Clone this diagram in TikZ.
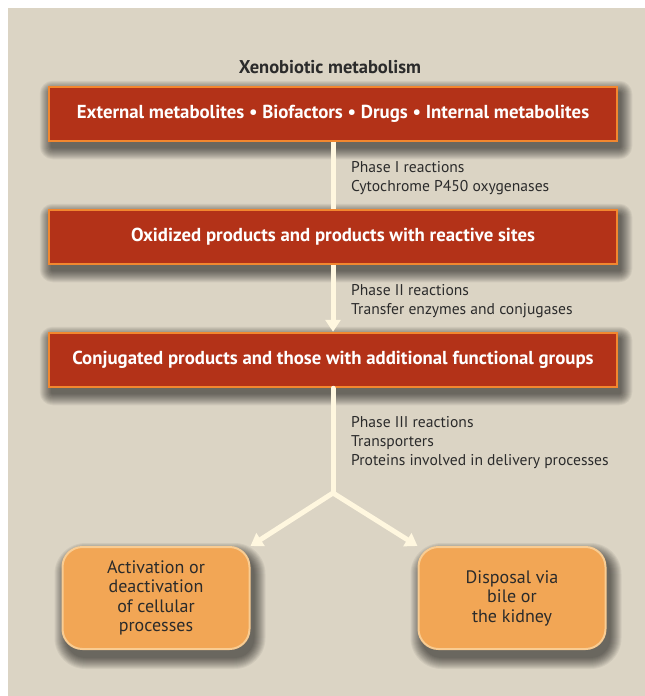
\documentclass[tikz,border=0pt]{standalone}
\usepackage{fontspec}
\setmainfont{PT Sans}
\usetikzlibrary{arrows.meta,calc}
\definecolor{bg}{HTML}{DBD4C4}
\definecolor{boxred}{HTML}{B33218}
\definecolor{boxedge}{HTML}{F2872F}
\definecolor{cream}{HTML}{FFF7DF}
\definecolor{obox}{HTML}{F2A655}
\definecolor{oedge}{HTML}{F9CC92}
\definecolor{ink}{HTML}{2B2B2B}
\pgfdeclarelayer{under}
\pgfsetlayers{under,main}
% soft shadow: node, dx, dy, base corner radius
\newcommand\softshade[4]{%
  \foreach \r in {0,...,11}{%
    \pgfmathsetmacro\rc{#4+\r}%
    \fill[black, opacity=0.055, rounded corners=\rc pt]
      ([shift={(#2-\r,#3-\r)}]#1.north west) rectangle ([shift={(#2+\r,#3+\r)}]#1.south east);
  }%
}
\begin{document}
\begin{tikzpicture}[x=1pt,y=-1pt,
  redbox/.style={draw=boxedge, line width=2.5pt, fill=boxred, text=white,
    font=\bfseries\fontsize{18.8}{22}\selectfont, minimum width=568pt, minimum height=54pt},
  obx/.style={draw=oedge, line width=2pt, fill=obox, text=ink, rounded corners=20pt,
    font=\fontsize{18}{19.5}\selectfont, align=center, minimum width=187pt, minimum height=102pt},
  lab/.style={anchor=base west, inner sep=0pt, text=ink, font=\fontsize{15.6}{19}\selectfont},
  conn/.style={draw=cream, line width=5pt},
  arr/.style={conn, -{Triangle[width=15pt,length=12pt]}}
]
\useasboundingbox (0,0) rectangle (645,696);
\begin{pgfonlayer}{under}
\fill[white] (0,0) rectangle (645,696);
\fill[bg] (8,8) rectangle (645,696);
\end{pgfonlayer}

\node[inner sep=0pt, anchor=base, text=ink, font=\bfseries\fontsize{18.5}{22}\selectfont] (title) at (330,73) {Xenobiotic metabolism};

\node[redbox] (b1) at (333,114) {External metabolites \textbullet\ Biofactors \textbullet\ Drugs \textbullet\ Internal metabolites};
\node[redbox] (b2) at (333,237) {Oxidized products and products with reactive sites};
\node[redbox] (b3) at (333,360) {Conjugated products and those with additional functional groups};

\node[obx] (act) at (156,598) {Activation or\\deactivation\\of cellular\\processes};
\node[obx] (dis) at (512,598) {Disposal via\\bile or\\the kidney};

\begin{pgfonlayer}{under}
\softshade{b1}{3}{6}{2}
\softshade{b2}{3}{6}{2}
\softshade{b3}{3}{6}{2}
\softshade{act}{4}{8}{20}
\softshade{dis}{4}{8}{20}
\end{pgfonlayer}

\coordinate (fork) at (333,493);

\draw[conn] (b1.south) -- (b2.north);
\draw[arr] (b2.south) -- (b3.north);
\draw[conn, line cap=round] (b3.south) -- (fork);
\draw[arr] (fork) -- (act.north east);
\draw[arr] (fork) -- (dis.north west);

\node[lab] (p1a) at (351,172) {Phase I reactions};
\node[lab] (p1b) at (351,191) {Cytochrome P450 oxygenases};
\node[lab] (p2a) at (351,295) {Phase II reactions};
\node[lab] (p2b) at (351,314) {Transfer enzymes and conjugases};
\node[lab] (p3a) at (351,427) {Phase III reactions};
\node[lab] (p3b) at (351,446) {Transporters};
\node[lab] (p3c) at (351,465) {Proteins involved in delivery processes};
\end{tikzpicture}
\end{document}
